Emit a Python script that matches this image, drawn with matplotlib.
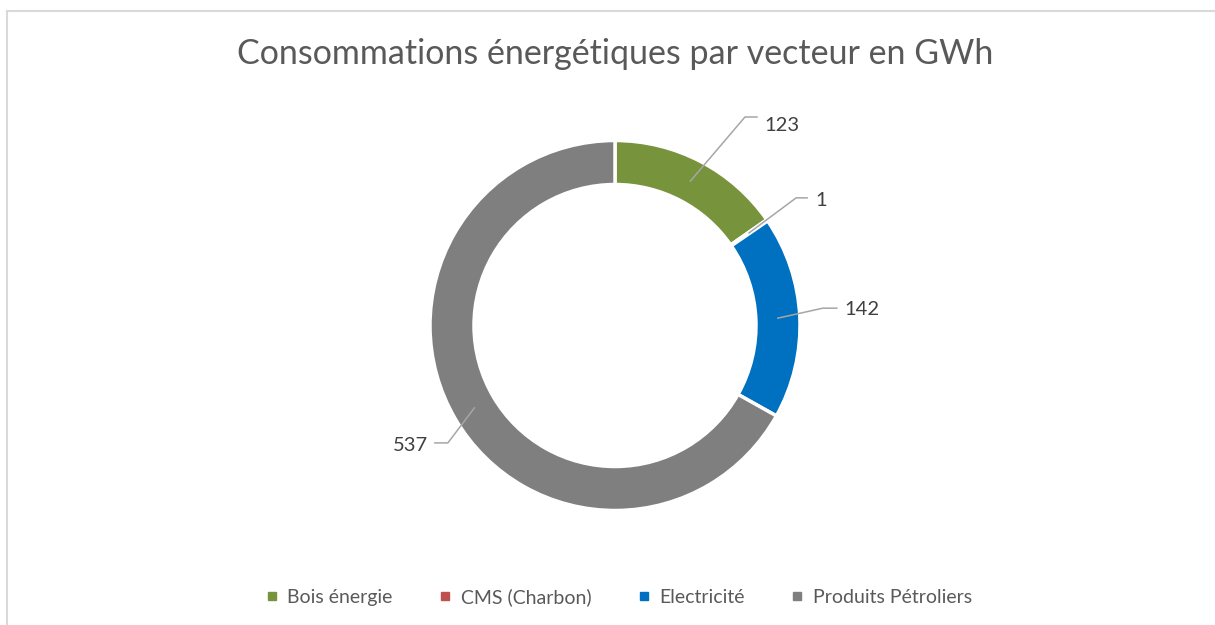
import numpy as np
import matplotlib
matplotlib.use('Agg')
import matplotlib.pyplot as plt

categories = ['Bois énergie', 'CMS (Charbon)', 'Electricité', 'Produits Pétroliers']
values = [123, 1, 142, 537]
colors = ['#77933C', '#C0504D', '#0070C0', '#7F7F7F']
title = 'Consommations énergétiques par vecteur en GWh'

plt.rcParams['font.family'] = ['Lato', 'DejaVu Sans']

W, H = 1215, 625
fig = plt.figure(figsize=(W / 100, H / 100), dpi=100)
ax = fig.add_axes([0, 0, 1, 1])

cx, cy, R, ring = 615, H - 325.5, 185, 44
wedges, _ = ax.pie(values, colors=colors, startangle=90, counterclock=False,
                   radius=R, center=(cx, cy),
                   wedgeprops=dict(width=ring, edgecolor='white', linewidth=2.5))
ax.set_aspect('auto')
ax.set_xlim(0, W)
ax.set_ylim(0, H)
ax.axis('off')

# leader line layout: (elbow dx, dy), (end dx, dy), (text dx, dy), ha
layout = [
    ((54.5, 64), (66.5, 64), (74, 56), 'left'),
    ((47, 35), (58, 35), (66, 32), 'left'),
    ((45, 10), (59, 10), (67, 9), 'left'),
    ((-26.5, -35), (-39.5, -35), (-46, -38), 'right'),
]
for w, v, (el, en, tx, ha) in zip(wedges, values, layout):
    mid = np.deg2rad((w.theta1 + w.theta2) / 2)
    rm = R - ring / 2
    ax0, ay0 = cx + rm * np.cos(mid), cy + rm * np.sin(mid)
    ax.plot([ax0, ax0 + el[0], ax0 + en[0]], [ay0, ay0 + el[1], ay0 + en[1]],
            color='#A6A6A6', lw=1.1)
    ax.text(ax0 + tx[0], ay0 + tx[1], str(v), ha=ha, va='center',
            fontsize=14.5, color='#404040')

fig.text(615 / W, 1 - 54 / H, title, ha='center', va='center',
         fontsize=24.5, color='#595959')

handles = [plt.Line2D([], [], marker='s', ls='none', color=c, markersize=6)
           for c in colors]
fig.legend(handles, categories, loc='center', bbox_to_anchor=(619 / W, 1 - 597 / H),
           ncol=4, frameon=False, fontsize=14, labelcolor='#595959',
           handlelength=0.6, handletextpad=0.5, columnspacing=2.4)

# chart area border (top and left visible)
fig.add_artist(plt.Line2D([6.5 / W, 1], [1 - 10.5 / H, 1 - 10.5 / H], color='#D9D9D9', lw=1.5))
fig.add_artist(plt.Line2D([6.5 / W, 6.5 / W], [0, 1 - 10.5 / H], color='#D9D9D9', lw=1.5))

fig.savefig('out.png', dpi=100, facecolor='white')
